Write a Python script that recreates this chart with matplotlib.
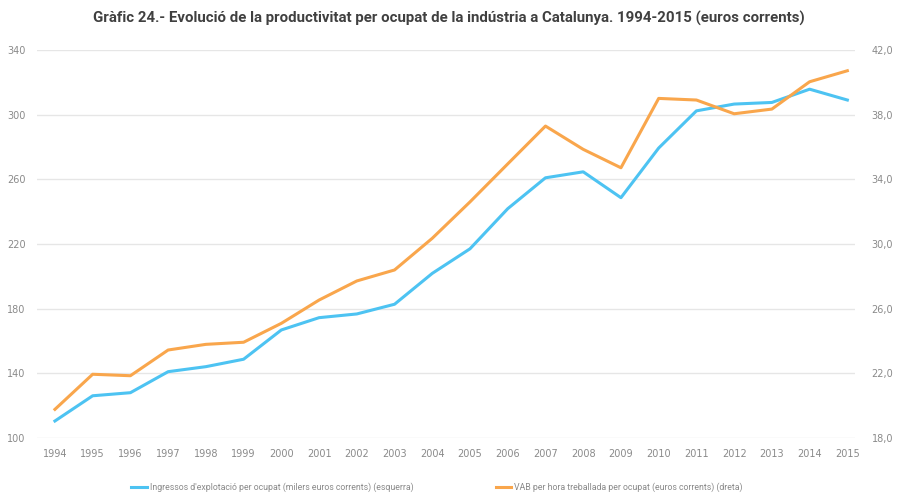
import matplotlib.pyplot as plt
from matplotlib.lines import Line2D

anys = [str(a) for a in range(1994, 2016)]

# ingressos d'explotacio per ocupat (milers euros corrents) - eix esquerre
ingressos = [110.5, 126.1, 128.0, 141.0, 144.1, 148.7, 166.8, 174.4, 176.7, 182.7, 201.8,
             217.0, 241.8, 260.9, 264.6, 248.6, 279.3, 302.3, 306.5, 307.5, 315.7, 309.0]

# VAB per hora treballada per ocupat (euros corrents) - eix dret
vab_hora = [19.77, 21.94, 21.85, 23.44, 23.79, 23.92, 25.09, 26.53, 27.71, 28.39, 30.35,
            32.6, 34.95, 37.29, 35.85, 34.71, 39.0, 38.9, 38.05, 38.34, 40.03, 40.71]

ticks_esq = [100, 140, 180, 220, 260, 300, 340]
ticks_dre = [18, 22, 26, 30, 34, 38, 42]

blau = '#4dc3f2'
taronja = '#f9a64c'
gris = '#8a8a8a'

fig = plt.figure(figsize=(8.98, 5.04), dpi=100)
ax = fig.add_axes([0.041, 0.131, 0.911, 0.770])
ax2 = ax.twinx()

x = list(range(len(anys)))
ax.plot(x, ingressos, color=blau, lw=2.2, solid_joinstyle='round')
ax2.plot(x, vab_hora, color=taronja, lw=2.2, solid_joinstyle='round')

ax.set_xlim(-0.48, 21.2)
ax.set_ylim(100, 340)
ax2.set_ylim(18, 42)
ax.set_yticks(ticks_esq)
ax2.set_yticks(ticks_dre)
ax2.set_yticklabels([f'{t:.1f}'.replace('.', ',') for t in ticks_dre])
ax.set_xticks(x)
ax.set_xticklabels(anys)

ax.grid(axis='y', color='#e6e6e6', lw=1)
ax.set_axisbelow(True)
for a in (ax, ax2):
    for s in a.spines.values():
        s.set_visible(False)
    a.tick_params(length=0, labelsize=7, colors=gris)
ax.tick_params(axis='x', pad=8)
ax.tick_params(axis='y', pad=8)
ax2.tick_params(axis='y', pad=12)

fig.text(0.5, 0.963, "Gràfic 24.- Evolució de la productivitat per ocupat de la indústria a Catalunya. 1994-2015 (euros corrents)",
         ha='center', va='center', fontsize=10.8, fontweight='bold', color='#404040',
         family=['Roboto', 'DejaVu Sans'])

handles = [Line2D([], [], color=blau, lw=2.2), Line2D([], [], color=taronja, lw=2.2)]
labels = ["Ingressos d'explotació per ocupat (milers euros corrents) (esquerra)",
          "VAB per hora treballada per ocupat (euros corrents) (dreta)"]
fig.legend(handles, labels, loc='center', bbox_to_anchor=(0.4865, 0.033), ncol=2, frameon=False,
           prop={'family': 'Roboto', 'size': 6.3}, labelcolor=gris, handlelength=1.8,
           handletextpad=0.3, columnspacing=9.4)

plt.savefig('out.png', dpi=100)
